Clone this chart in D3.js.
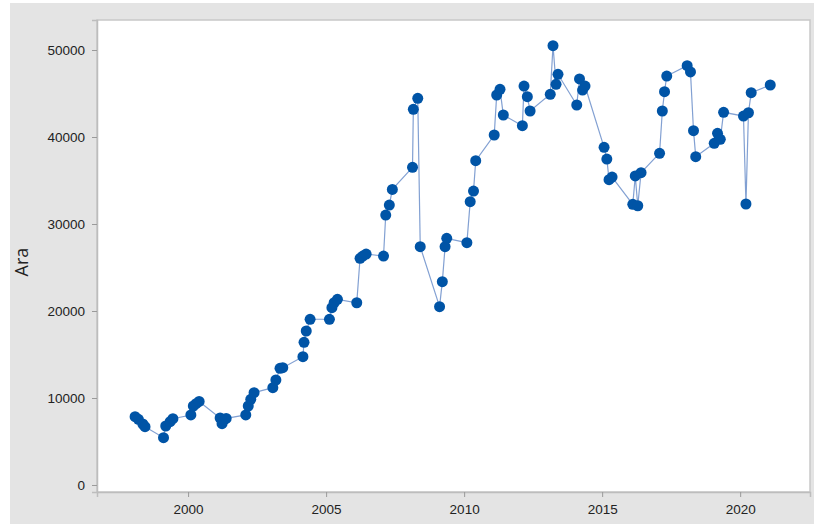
<!DOCTYPE html>
<html>
<head>
<meta charset="utf-8">
<script src="https://cdn.jsdelivr.net/npm/d3@7"></script>
<style>
  body { margin: 0; background: #fff; }
</style>
</head>
<body>
<div id="chart"></div>
<script>
// values (decimal year, Ara)
var years = [
  1998.08, 1998.20, 1998.36, 1998.44,
  1999.11, 1999.19, 1999.35, 1999.45,
  2000.10, 2000.19, 2000.29, 2000.40,
  2001.16, 2001.23, 2001.30, 2001.38,
  2002.09, 2002.18, 2002.27, 2002.39,
  2003.07, 2003.18, 2003.33, 2003.43,
  2004.16, 2004.20, 2004.28, 2004.42,
  2005.12, 2005.21, 2005.29, 2005.41,
  2006.11, 2006.23, 2006.33, 2006.45,
  2007.08, 2007.16, 2007.29, 2007.40,
  2008.13, 2008.16, 2008.32, 2008.41,
  2009.11, 2009.21, 2009.31, 2009.37,
  2010.10, 2010.22, 2010.34, 2010.42,
  2011.09, 2011.18, 2011.30, 2011.42,
  2012.11, 2012.17, 2012.29, 2012.39,
  2013.12, 2013.22, 2013.33, 2013.40,
  2014.08, 2014.18, 2014.29, 2014.38,
  2015.07, 2015.17, 2015.25, 2015.36,
  2016.11, 2016.20, 2016.29, 2016.41,
  2017.08, 2017.18, 2017.26, 2017.34,
  2018.08, 2018.20, 2018.31, 2018.39,
  2019.06, 2019.18, 2019.28, 2019.40,
  2020.12, 2020.21, 2020.30, 2020.40,
  2021.09
];
var ara = [
  7850, 7550, 7010, 6700,
  5440, 6780, 7280, 7620,
  8050, 9080, 9350, 9600,
  7700, 7050, 7500, 7650,
  8050, 9080, 9850, 10610,
  11190, 12070, 13410, 13480,
  14750, 16400, 17700, 19050,
  19050, 20380, 20950, 21340,
  20950, 26060, 26320, 26550,
  26320, 31030, 32180, 33980,
  36520, 43180, 44450, 27390,
  20500, 23370, 27390, 28350,
  27850, 32560, 33790, 37280,
  40230, 44830, 45480, 42530,
  41300, 45860, 44630, 42990,
  44910, 50500, 46060, 47210,
  43680, 46670, 45400, 45860,
  38810, 37470, 35100, 35400,
  32260, 35520, 32100, 35900,
  38130, 42990, 45210, 47010,
  48200, 47480, 40730, 37740,
  39270, 40420, 39730, 42840,
  42410, 32300, 42790, 45090,
  45980
];
var xTicks = [2000, 2005, 2010, 2015, 2020];
var yTicks = [0, 10000, 20000, 30000, 40000, 50000];
var yTitle = 'Ara';

var W = 814, H = 526;
var plot = { left: 97, right: 810, top: 20, bottom: 492 };

var svg = d3.select('#chart')
    .append('svg')
        .attr('width', W)
        .attr('height', H)
        .style('font-family', '"Open Sans", "Noto Sans", sans-serif');

// grey frame round the graph
svg.append('rect')
    .attr('x', 10).attr('y', 3)
    .attr('width', W - 10).attr('height', 521)
    .attr('fill', '#e4e4e4');

svg.append('rect')
    .attr('x', plot.left).attr('y', plot.top)
    .attr('width', plot.right - plot.left).attr('height', plot.bottom - plot.top)
    .attr('fill', '#ffffff')
    .attr('stroke', '#c8c8c8')
    .attr('stroke-width', 1.5);

var x = d3.scaleLinear()
    .domain([1996.7, 2022.53])
    .range([plot.left, plot.right]);

var y = d3.scaleLinear()
    .domain([-805, 53450])
    .range([plot.bottom, plot.top]);

var xAxis = svg.append('g')
    .attr('transform', 'translate(0,' + plot.bottom + ')')
    .call(d3.axisBottom(x).tickValues(xTicks).tickFormat(d3.format('d')).tickSizeOuter(0).tickSize(5).tickPadding(7));

var yAxis = svg.append('g')
    .attr('transform', 'translate(' + plot.left + ',0)')
    .call(d3.axisLeft(y).tickValues(yTicks).tickFormat(d3.format('d')).tickSizeOuter(0).tickSize(5).tickPadding(7));

[xAxis, yAxis].forEach(function (g) {
    g.select('.domain').attr('stroke', '#bdbdbd').attr('stroke-width', 1.5);
    g.selectAll('.tick line').attr('stroke', '#9a9a9a');
    g.selectAll('.tick text')
        .attr('fill', '#222')
        .style('font-size', '13.5px');
});

svg.append('text')
    .attr('transform', 'translate(28,' + ((plot.top + plot.bottom) / 2 + 6) + ') rotate(-90)')
    .attr('text-anchor', 'middle')
    .attr('fill', '#222')
    .style('font-size', '18px')
    .text(yTitle);

var pts = years.map(function (d, i) { return [d, ara[i]]; });

svg.append('path')
    .datum(pts)
    .attr('fill', 'none')
    .attr('stroke', '#4d78bf')
    .attr('stroke-opacity', 0.7)
    .attr('stroke-width', 1.2)
    .attr('d', d3.line().x(function (d) { return x(d[0]); }).y(function (d) { return y(d[1]); }));

svg.append('g')
    .selectAll('circle')
    .data(pts)
    .enter()
    .append('circle')
        .attr('cx', function (d) { return x(d[0]); })
        .attr('cy', function (d) { return y(d[1]); })
        .attr('r', 5.5)
        .attr('fill', '#0054a6');
</script>
</body>
</html>
